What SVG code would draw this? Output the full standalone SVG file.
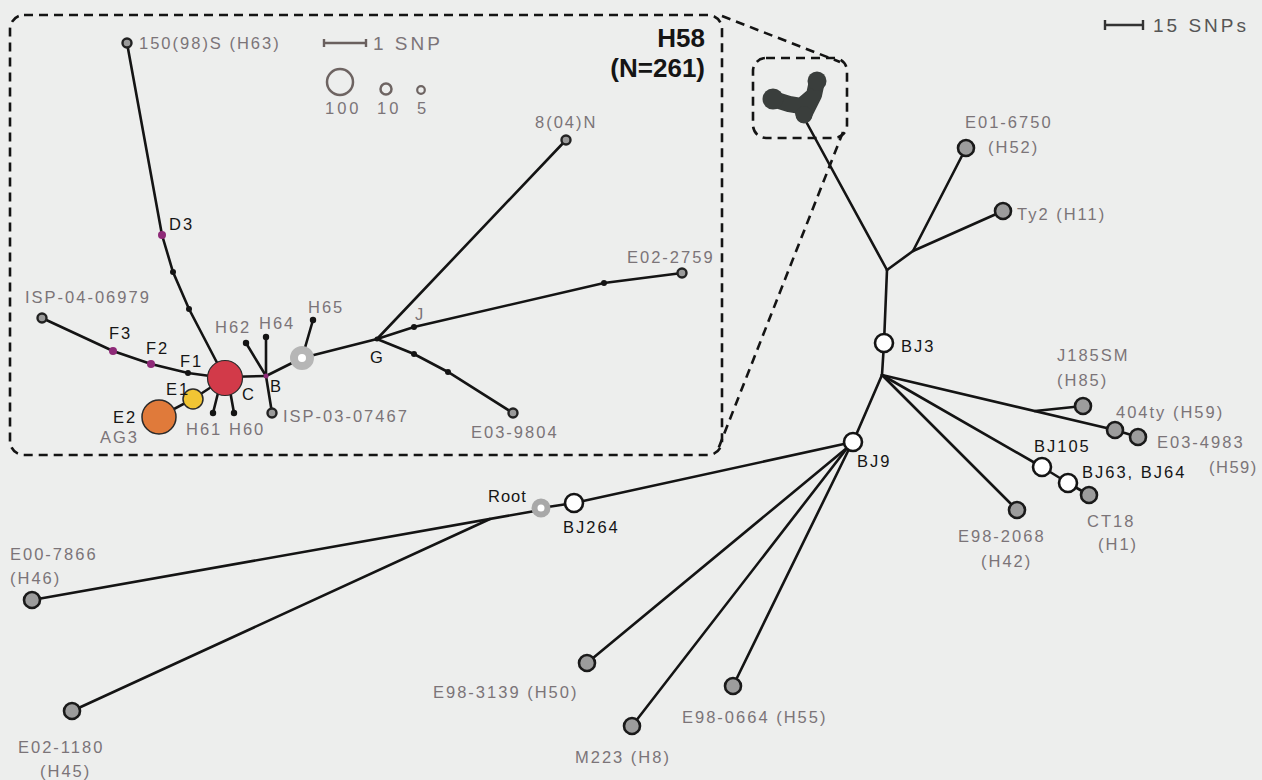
<svg xmlns="http://www.w3.org/2000/svg" width="1262" height="780" viewBox="0 0 1262 780">
<style>
.bg{fill:#edeeed}
.e{stroke:#141414;stroke-width:2.6;fill:none;stroke-linecap:round}
.dash{stroke:#141414;stroke-width:2.6;fill:none;stroke-dasharray:9 6}
.leaf{fill:#9c9c9c;stroke:#1a1a1a;stroke-width:2.6}
.open{fill:#fff;stroke:#141414;stroke-width:2.6}
.tip{fill:#9a9a9a;stroke:#222;stroke-width:2.4}
.dot{fill:#141414}
.pur{fill:#8e2a78}
.blob{fill:#3a3e3c}
.g{font-family:"Liberation Sans",Arial,sans-serif;font-size:16.5px;letter-spacing:2px;fill:#7b7478}
.k{font-family:"Liberation Sans",Arial,sans-serif;font-size:16.5px;letter-spacing:2px;fill:#151515}
.big{font-family:"Liberation Sans",Arial,sans-serif;font-size:26px;font-weight:bold;fill:#151515;text-anchor:end}
.scale{font-family:"Liberation Sans",Arial,sans-serif;font-size:19px;letter-spacing:3px}
</style>
<rect class="bg" x="0" y="0" width="1262" height="780"/>

<g id="frames">
<rect class="dash" x="10" y="15" width="712" height="440" rx="14"/>
<rect class="dash" x="753" y="58" width="94" height="80" rx="13"/>
<line class="dash" x1="722" y1="16" x2="840" y2="62"/>
<line class="dash" x1="843" y1="132" x2="717" y2="452"/>
</g>

<g id="connectors">
<line class="e" x1="803" y1="116" x2="887" y2="270"/>
<line class="e" x1="887" y1="270" x2="913" y2="251"/>
<line class="e" x1="913" y1="251" x2="966" y2="148"/>
<line class="e" x1="913" y1="251" x2="1003" y2="211"/>
<line class="e" x1="887" y1="270" x2="884" y2="343"/>
<line class="e" x1="884" y1="343" x2="882" y2="375"/>
<line class="e" x1="882" y1="375" x2="853" y2="442"/>
<line class="e" x1="882" y1="375" x2="1115" y2="430"/>
<line class="e" x1="1035" y1="411" x2="1083" y2="406"/>
<line class="e" x1="1115" y1="430" x2="1138" y2="437"/>
<line class="e" x1="882" y1="375" x2="1042" y2="467"/>
<line class="e" x1="1042" y1="467" x2="1068" y2="483"/>
<line class="e" x1="1068" y1="483" x2="1089" y2="495"/>
<line class="e" x1="882" y1="375" x2="1017" y2="510"/>
<line class="e" x1="853" y1="442" x2="574" y2="503"/>
<line class="e" x1="848" y1="447" x2="587" y2="663"/>
<line class="e" x1="848" y1="447" x2="632" y2="726"/>
<line class="e" x1="850" y1="447" x2="733" y2="686"/>
<line class="e" x1="574" y1="503" x2="541" y2="508"/>
<line class="e" x1="535" y1="511" x2="32" y2="600"/>
<line class="e" x1="490" y1="519" x2="72" y2="711"/>
<polyline class="e" points="127,43 162,235 173,272 189,309 225,378"/>
<polyline class="e" points="42,318 113,351 151,364 188,373 225,378"/>
<polyline class="e" points="225,378 193,399 159,417"/>
<line class="e" x1="220" y1="385" x2="213" y2="413"/>
<line class="e" x1="229" y1="385" x2="234" y2="413"/>
<line class="e" x1="225" y1="377" x2="266" y2="376"/>
<line class="e" x1="266" y1="376" x2="246" y2="343"/>
<line class="e" x1="266" y1="376" x2="266" y2="337"/>
<line class="e" x1="266" y1="376" x2="272" y2="413"/>
<line class="e" x1="266" y1="376" x2="302" y2="358"/>
<line class="e" x1="302" y1="358" x2="313" y2="320"/>
<line class="e" x1="302" y1="358" x2="377" y2="339"/>
<line class="e" x1="377" y1="339" x2="566" y2="140"/>
<polyline class="e" points="377,339 414,327 604,283 682,273"/>
<polyline class="e" points="377,339 414,354 448,372 513,413"/>
</g>

<g id="h58-cluster">
<path d="M773,99 L789,104 L801,106 L814,95 L817,81 M801,106 L804,115 M814,95 L804,115" stroke="#3a3e3c" stroke-width="16" stroke-linecap="round" stroke-linejoin="round" fill="none"/>
<circle class="blob" cx="773" cy="99" r="10.5"/>
<circle class="blob" cx="804" cy="115" r="8.5"/>
<circle class="blob" cx="817" cy="81" r="9.5"/>
</g>

<g id="scale-15"><path d="M1105,20 V30 M1105,25 H1143 M1143,20 V30" stroke="#333" stroke-width="2.4" fill="none"/><text class="scale" x="1153" y="32" fill="#555">15 SNPs</text></g>

<g id="n-E01-6750"><circle class="leaf" cx="966" cy="148" r="8"/><text class="g" x="965" y="128">E01-6750</text><text class="g" x="988" y="153">(H52)</text></g>
<g id="n-Ty2"><circle class="leaf" cx="1003" cy="211" r="8"/><text class="g" x="1017" y="220">Ty2 (H11)</text></g>
<g id="n-BJ3"><circle class="open" cx="884" cy="343" r="9"/><text class="k" x="901" y="352">BJ3</text></g>
<g id="n-J185SM"><circle class="leaf" cx="1083" cy="406" r="8"/><text class="g" x="1057" y="361">J185SM</text><text class="g" x="1057" y="386">(H85)</text></g>
<g id="n-404ty"><circle class="leaf" cx="1115" cy="430" r="8"/><text class="g" x="1116" y="418">404ty (H59)</text></g>
<g id="n-E03-4983"><circle class="leaf" cx="1138" cy="437" r="8"/><text class="g" x="1157" y="448">E03-4983</text><text class="g" x="1209" y="473" style="letter-spacing:1.5px">(H59)</text></g>
<g id="n-BJ105"><circle class="open" cx="1042" cy="467" r="9"/><text class="k" x="1034" y="452">BJ105</text></g>
<g id="n-BJ63"><circle class="open" cx="1068" cy="483" r="9"/><text class="k" x="1082" y="478">BJ63, BJ64</text></g>
<g id="n-CT18"><circle class="leaf" cx="1089" cy="495" r="8"/><text class="g" x="1087" y="527">CT18</text><text class="g" x="1098" y="550">(H1)</text></g>
<g id="n-E98-2068"><circle class="leaf" cx="1017" cy="510" r="8"/><text class="g" x="958" y="542">E98-2068</text><text class="g" x="981" y="567">(H42)</text></g>
<g id="n-BJ9"><circle class="open" cx="853" cy="442" r="9"/><text class="k" x="857" y="467">BJ9</text></g>
<g id="n-BJ264"><circle class="open" cx="574" cy="503" r="9"/><text class="k" x="563" y="533">BJ264</text></g>
<g id="n-Root"><circle cx="541" cy="508" r="6.5" fill="#fff" stroke="#a8a8a8" stroke-width="6"/><text class="k" x="488" y="502" style="letter-spacing:1px">Root</text></g>
<g id="n-E98-3139"><circle class="leaf" cx="587" cy="663" r="8"/><text class="g" x="433" y="698">E98-3139 (H50)</text></g>
<g id="n-M223"><circle class="leaf" cx="632" cy="726" r="8"/><text class="g" x="575" y="763">M223 (H8)</text></g>
<g id="n-E98-0664"><circle class="leaf" cx="733" cy="686" r="8"/><text class="g" x="682" y="723">E98-0664 (H55)</text></g>
<g id="n-E00-7866"><circle class="leaf" cx="32" cy="600" r="8"/><text class="g" x="10" y="560">E00-7866</text><text class="g" x="10" y="584">(H46)</text></g>
<g id="n-E02-1180"><circle class="leaf" cx="72" cy="711" r="8"/><text class="g" x="18" y="753">E02-1180</text><text class="g" x="40" y="777">(H45)</text></g>

<g id="title-H58"><text class="big" x="705" y="47">H58</text><text class="big" x="705" y="77">(N=261)</text></g>
<g id="scale-1"><path d="M324,39 V47 M324,43 H366 M366,39 V47" stroke="#6a605e" stroke-width="2.4" fill="none"/><text class="scale" x="373" y="50" fill="#7b7478">1 SNP</text></g>
<g id="legend-size">
<circle cx="340" cy="82" r="13" fill="none" stroke="#6e6462" stroke-width="2.5"/>
<circle cx="386" cy="89" r="5.5" fill="none" stroke="#6e6462" stroke-width="2.5"/>
<circle cx="421" cy="90" r="3.8" fill="none" stroke="#6e6462" stroke-width="2.2"/>
<text class="g" x="325" y="114" style="letter-spacing:3px">100</text><text class="g" x="377" y="114" style="letter-spacing:3px">10</text><text class="g" x="417" y="114">5</text>
</g>
<g id="n-150-98-S"><circle class="tip" cx="127" cy="43" r="4.5"/><text class="g" x="139" y="49">150(98)S (H63)</text></g>
<g id="n-D3"><circle class="pur" cx="162" cy="235" r="4"/><text class="k" x="169" y="230">D3</text></g>
<g id="n-d3a"><circle class="dot" cx="173" cy="272" r="3"/></g>
<g id="n-d3b"><circle class="dot" cx="189" cy="309" r="3"/></g>
<g id="n-ISP-04-06979"><circle class="tip" cx="42" cy="318" r="4.5"/><text class="g" x="25" y="303">ISP-04-06979</text></g>
<g id="n-F3"><circle class="pur" cx="113" cy="351" r="4"/><text class="k" x="109" y="339">F3</text></g>
<g id="n-F2"><circle class="pur" cx="151" cy="364" r="4"/><text class="k" x="146" y="354">F2</text></g>
<g id="n-F1"><circle class="dot" cx="188" cy="373" r="3"/><text class="k" x="180" y="367">F1</text></g>
<g id="n-E2"><circle cx="159" cy="417" r="17" fill="#e07a3a" stroke="#2a2a2a" stroke-width="1.5"/><text class="k" x="113" y="423">E2</text><text class="g" x="100" y="443">AG3</text></g>
<g id="n-E1"><circle cx="193" cy="399" r="10" fill="#f1c534" stroke="#2a2a2a" stroke-width="1.5"/><text class="k" x="166" y="395">E1</text></g>
<g id="n-H61"><circle class="dot" cx="213" cy="413" r="3.2"/><text class="g" x="186" y="435">H61</text></g>
<g id="n-H60"><circle class="dot" cx="234" cy="413" r="3.2"/><text class="g" x="229" y="435">H60</text></g>
<g id="n-C"><circle cx="225" cy="378" r="17.5" fill="#d23a49" stroke="#2a2a2a" stroke-width="1.2"/><text class="k" x="242" y="400">C</text></g>
<g id="n-B"><circle class="pur" cx="266" cy="376" r="2.5"/><text class="k" x="270" y="392">B</text></g>
<g id="n-H62"><circle class="dot" cx="246" cy="343" r="3.2"/><text class="g" x="215" y="333">H62</text></g>
<g id="n-H64"><circle class="dot" cx="266" cy="337" r="3.2"/><text class="g" x="259" y="329">H64</text></g>
<g id="n-ISP-03-07467"><circle class="tip" cx="272" cy="413" r="4.5"/><text class="g" x="283" y="422">ISP-03-07467</text></g>
<g id="n-H58"><circle cx="302" cy="358" r="8" fill="#fff" stroke="#b6b6b6" stroke-width="8"/></g>
<g id="n-H65"><circle class="dot" cx="313" cy="320" r="3.2"/><text class="g" x="308" y="313">H65</text></g>
<g id="n-G"><circle class="dot" cx="377" cy="339" r="2.5"/><text class="k" x="370" y="363">G</text></g>
<g id="n-8-04-N"><circle class="tip" cx="566" cy="140" r="4.5"/><text class="g" x="535" y="128">8(04)N</text></g>
<g id="n-J"><circle class="dot" cx="414" cy="327" r="3"/><text class="g" x="415" y="320">J</text></g>
<g id="n-j2"><circle class="dot" cx="604" cy="283" r="3"/></g>
<g id="n-E02-2759"><circle class="tip" cx="682" cy="273" r="4.5"/><text class="g" x="627" y="263">E02-2759</text></g>
<g id="n-g1"><circle class="dot" cx="414" cy="354" r="3"/></g>
<g id="n-g2"><circle class="dot" cx="448" cy="372" r="3"/></g>
<g id="n-E03-9804"><circle class="tip" cx="513" cy="413" r="4.5"/><text class="g" x="471" y="438">E03-9804</text></g>
</svg>
